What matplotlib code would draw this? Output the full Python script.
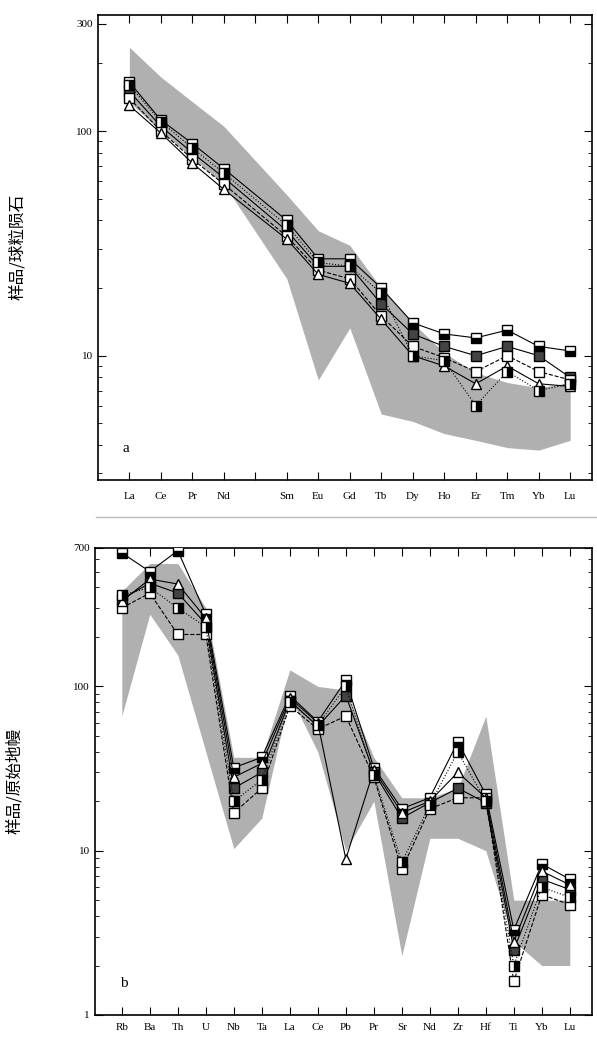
import matplotlib.pyplot as plt
from matplotlib.lines import Line2D

plt.rcParams['font.family'] = ['Liberation Serif', 'Noto Sans CJK SC', 'DejaVu Sans']

# ---- panel a: REE, chondrite normalised ----
ree = ['La', 'Ce', 'Pr', 'Nd', '', 'Sm', 'Eu', 'Gd', 'Tb', 'Dy', 'Ho', 'Er', 'Tm', 'Yb', 'Lu']
ree_plot = ['La', 'Ce', 'Pr', 'Nd', 'Sm', 'Eu', 'Gd', 'Tb', 'Dy', 'Ho', 'Er', 'Tm', 'Yb', 'Lu']

ree_band_hi = [236, 174, 135, 105, 52, 36, 31, 20, 14, 10.3, 8.4, 7.6, 7.2, 7.6]
ree_band_lo = [135, 100, 76, 58, 22, 7.8, 13.3, 5.5, 5.1, 4.5, 4.2, 3.9, 3.8, 4.2]

ree_s1 = [165, 112, 88, 68, 40, 27, 27, 20, 14, 12.5, 12, 13, 11, 10.5]
ree_s2 = [150, 105, 80, 62, 36, 25, 25, 17, 12.5, 11, 10, 11, 10, 8]
ree_s3 = [140, 100, 75, 58, 34, 24, 22, 15, 11, 9.8, 8.5, 10, 8.5, 7.8]
ree_s4 = [130, 98, 72, 55, 33, 23, 21, 14.5, 10, 9, 7.5, 9, 7.5, 7.3]
ree_s5 = [160, 110, 84, 65, 38, 26, 25, 19, 10, 9.5, 6, 8.5, 7, 7.5]

# ---- panel b: trace elements, primitive mantle normalised ----
tr = ['Rb', 'Ba', 'Th', 'U', 'Nb', 'Ta', 'La', 'Ce', 'Pb', 'Pr', 'Sr', 'Nd', 'Zr', 'Hf', 'Ti', 'Yb', 'Lu']

tr_band_hi = [380, 560, 560, 300, 37, 37, 126, 100, 95, 37, 21, 21, 24, 66, 5, 5, 5]
tr_band_lo = [66, 275, 155, 40, 10.3, 15.8, 88, 40, 10, 20, 2.3, 11.9, 11.9, 10, 2.8, 2, 2]

tr_s1 = [650, 500, 670, 275, 32, 37, 88, 61, 109, 32, 18, 21, 46, 22, 3.3, 8.3, 6.7]
tr_s2 = [340, 425, 370, 240, 24, 30, 82, 57, 88, 30, 15.8, 19.6, 24, 19.6, 2.5, 6.7, 5.8]
tr_s3 = [300, 370, 207, 207, 17, 24, 76, 55, 66, 28, 7.7, 18, 21, 21, 1.6, 5.4, 4.7]
tr_s4 = [330, 450, 420, 260, 28, 34, 85, 60, 8.9, 31, 17, 20, 30, 21, 2.8, 7.5, 6.2]
tr_s5 = [360, 400, 300, 230, 20, 27, 80, 58, 100, 29, 8.5, 19, 40, 20, 2.0, 6, 5.2]

styles = [
    dict(marker='s', fillstyle='bottom', markerfacecolor='black', markerfacecoloralt='white', ls='-'),
    dict(marker='s', markerfacecolor='#444444', ls='-'),
    dict(marker='s', markerfacecolor='white', ls='--'),
    dict(marker='^', markerfacecolor='white', ls='-'),
    dict(marker='s', fillstyle='right', markerfacecolor='black', markerfacecoloralt='white', ls=':'),
]

fig = plt.figure(figsize=(5.97, 10.41), dpi=100)
ax1 = fig.add_axes([0.164, 0.539, 0.828, 0.447])
ax2 = fig.add_axes([0.159, 0.025, 0.833, 0.449])


def style_axis(ax, labels, xpos, ylim, yticks, xpad):
    ax.set_yscale('log')
    ax.set_ylim(*ylim)
    ax.set_xticks(xpos)
    ax.set_xticklabels(labels, fontsize=8)
    ax.set_yticks(yticks)
    ax.set_yticklabels([str(t) for t in yticks], fontsize=8)
    ax.tick_params(which='both', direction='in', top=True, right=True)
    ax.tick_params(axis='x', length=6, pad=xpad)
    ax.tick_params(axis='y', which='major', length=6)
    ax.tick_params(axis='y', which='minor', length=3)
    for sp in ax.spines.values():
        sp.set_linewidth(1.2)


# panel a
pos_all = list(range(len(ree)))
pos = [ree_plot.index(e) + (1 if i >= 4 else 0) for i, e in enumerate(ree_plot)]
ax1.fill_between(pos, ree_band_lo, ree_band_hi, color='#b0b0b0', lw=0, zorder=1)
for s, st in zip([ree_s1, ree_s2, ree_s3, ree_s4, ree_s5], styles):
    ax1.plot(pos, s, color='black', lw=0.8, ms=7, markeredgecolor='black', zorder=3, **st)
ax1.set_xlim(-1.0, 14.7)
style_axis(ax1, ree, pos_all, (2.8, 330), [10, 100, 300], 9)
ax1.set_ylabel('样品/球粒陨石', fontsize=12, family=['Noto Sans CJK SC'], labelpad=36)
ax1.text(0.05, 0.06, 'a', transform=ax1.transAxes, fontsize=11)

# panel b
pos2 = list(range(len(tr)))
ax2.fill_between(pos2, tr_band_lo, tr_band_hi, color='#b0b0b0', lw=0, zorder=1)
for s, st in zip([tr_s1, tr_s2, tr_s3, tr_s4, tr_s5], styles):
    ax2.plot(pos2, s, color='black', lw=0.8, ms=7, markeredgecolor='black', zorder=3, **st)
ax2.set_xlim(-0.96, 16.8)
style_axis(ax2, tr, pos2, (1, 700), [1, 10, 100, 700], 6)
ax2.set_ylabel('样品/原始地幔', fontsize=12, family=['Noto Sans CJK SC'], labelpad=36)
ax2.text(0.05, 0.06, 'b', transform=ax2.transAxes, fontsize=11)

fig.add_artist(Line2D([0.16, 1.0], [0.503, 0.503], color='#bbbbbb', lw=1))

fig.savefig('out.png', dpi=100)
